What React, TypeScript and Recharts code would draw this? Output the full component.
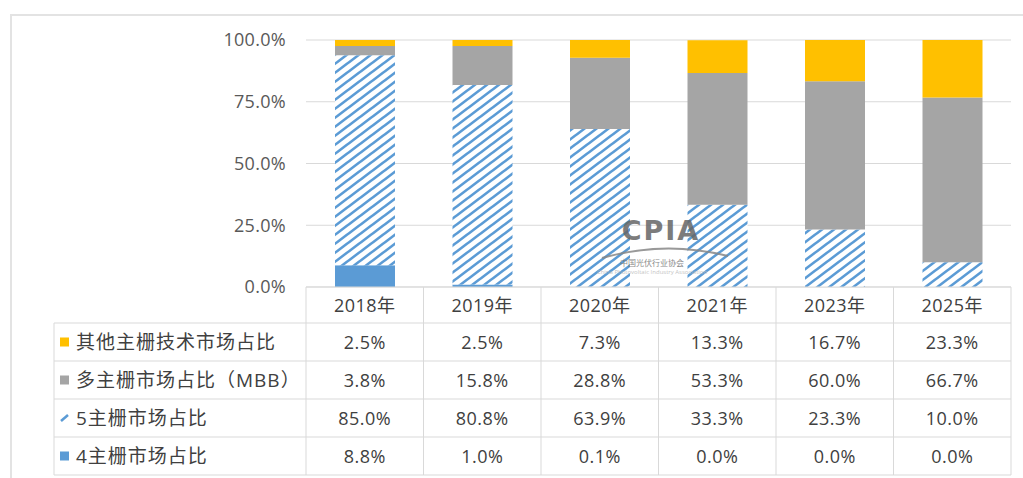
import { Bar, BarChart, CartesianGrid, XAxis, YAxis } from "recharts";

const years = ["2018年", "2019年", "2020年", "2021年", "2023年", "2025年"];
const otherShare = [2.5, 2.5, 7.3, 13.3, 16.7, 23.3];
const mbbShare = [3.8, 15.8, 28.8, 53.3, 60.0, 66.7];
const bb5Share = [85.0, 80.8, 63.9, 33.3, 23.3, 10.0];
const bb4Share = [8.8, 1.0, 0.1, 0.0, 0.0, 0.0];
const yTicks = [0, 25, 50, 75, 100];

// table rows, top to bottom (same order as the reference table)
const rows = [
  { key: "other", name: "其他主栅技术市场占比", color: "#FFC000", values: otherShare },
  { key: "mbb", name: "多主栅市场占比（MBB）", color: "#A5A5A5", values: mbbShare },
  { key: "bb5", name: "5主栅市场占比", color: "url(#stripes)", values: bb5Share },
  { key: "bb4", name: "4主栅市场占比", color: "#5B9BD5", values: bb4Share },
];

const data = years.map((year, i) => ({
  year,
  bb4: bb4Share[i],
  bb5: bb5Share[i],
  mbb: mbbShare[i],
  other: otherShare[i],
}));

const FONT = "'Open Sans', 'Noto Sans CJK SC', sans-serif";
const TEXT = "#404040";
const LINE = "#d9d9d9";
const PLOT_LEFT = 306;
const PLOT_RIGHT = 1011;
const PLOT_BOTTOM = 287;
const COL_W = (PLOT_RIGHT - PLOT_LEFT) / years.length;
const HEAD_H = 36;
const ROW_H = 38;
const TABLE_LEFT = 54;

function TableColumn(props: any) {
  const { x, y, payload } = props;
  const idx = payload.index;
  const bottom = y + HEAD_H + ROW_H * rows.length;
  return (
    <g>
      {idx === 0 && <line x1={x - COL_W / 2} x2={x - COL_W / 2} y1={y} y2={bottom} stroke={LINE} />}
      <line x1={x + COL_W / 2} x2={x + COL_W / 2} y1={y} y2={bottom} stroke={LINE} />
      <text x={x} y={y + HEAD_H / 2} textAnchor="middle" dominantBaseline="central" fill={TEXT} fontSize={18} letterSpacing={0.5} fontFamily={FONT}>
        {payload.value}
      </text>
      {rows.map((r, i) => (
        <text
          key={r.key}
          x={x}
          y={y + HEAD_H + ROW_H * i + ROW_H / 2}
          textAnchor="middle"
          dominantBaseline="central"
          fill={TEXT}
          fontSize={18}
          letterSpacing={0.5}
          fontFamily={FONT}
        >
          {r.values[idx].toFixed(1)}%
        </text>
      ))}
    </g>
  );
}

export default function App() {
  const tableTop = PLOT_BOTTOM + HEAD_H;
  return (
    <div style={{ position: "absolute", left: 0, top: 0, width: 1023, height: 478, background: "#fff", overflow: "hidden" }}>
      <svg width={0} height={0} style={{ position: "absolute" }}>
        <defs>
          <pattern id="stripes" patternUnits="userSpaceOnUse" width={12} height={9}>
            <rect width={12} height={9} fill="#fff" />
            <path d="M-3,2.25 L3,-2.25 M0,9 L12,0 M9,11.25 L15,6.75" stroke="#5B9BD5" strokeWidth={2.6} />
          </pattern>
        </defs>
      </svg>
      <div style={{ position: "absolute", left: 10, top: 14, width: 1100, height: 600, borderLeft: `2px solid #e3e3e3`, borderTop: `2px solid #e3e3e3` }} />
      <div style={{ position: "absolute", left: 0, top: 0 }}>
        <BarChart width={1023} height={478} data={data} margin={{ top: 40, right: 12, bottom: 3, left: 226 }} barSize={60}>
          <CartesianGrid vertical={false} stroke={LINE} />
          <XAxis
            dataKey="year"
            height={188}
            interval={0}
            tickLine={false}
            tickSize={0}
            tickMargin={0}
            axisLine={{ stroke: LINE }}
            tick={<TableColumn />}
          />
          <YAxis
            width={80}
            domain={[0, 100]}
            ticks={yTicks}
            allowDataOverflow
            axisLine={false}
            tickLine={false}
            tickSize={0}
            tickMargin={20}
            tickFormatter={(v: number) => `${v.toFixed(1)}%`}
            tick={{ fill: "#595959", fontSize: 18, fontFamily: FONT, letterSpacing: 0.3 }}
          />
          <Bar dataKey="bb4" stackId="a" fill="#5B9BD5" isAnimationActive={false} />
          <Bar dataKey="bb5" stackId="a" fill="url(#stripes)" isAnimationActive={false} />
          <Bar dataKey="mbb" stackId="a" fill="#A5A5A5" isAnimationActive={false} />
          <Bar dataKey="other" stackId="a" fill="#FFC000" isAnimationActive={false} />
        </BarChart>
      </div>
      <svg width={1023} height={478} style={{ position: "absolute", left: 0, top: 0, pointerEvents: "none" }}>
        {rows.map((r, i) => (
          <line key={`h${i}`} x1={TABLE_LEFT} x2={PLOT_RIGHT} y1={tableTop + ROW_H * i} y2={tableTop + ROW_H * i} stroke={LINE} />
        ))}
        <line x1={TABLE_LEFT} x2={PLOT_RIGHT} y1={tableTop + ROW_H * rows.length} y2={tableTop + ROW_H * rows.length} stroke={LINE} />
        <line x1={TABLE_LEFT} x2={TABLE_LEFT} y1={tableTop} y2={tableTop + ROW_H * rows.length} stroke={LINE} />
        {rows.map((r, i) => {
          const cy = tableTop + ROW_H * i + ROW_H / 2;
          return (
            <g key={r.key}>
              {r.key === "bb5" ? (
                <line x1={61} y1={cy + 3} x2={68} y2={cy - 3} stroke="#5B9BD5" strokeWidth={2.5} />
              ) : (
                <rect x={60} y={cy - 4.5} width={9} height={9} fill={r.color} />
              )}
              <text x={76} y={cy} dominantBaseline="central" fill={TEXT} fontSize={19} letterSpacing={1} fontFamily={FONT}>
                {r.name}
              </text>
            </g>
          );
        })}
        <g opacity={0.85}>
          <text x={661} y={240} textAnchor="middle" fill="#666" fontSize={27} fontWeight={700} letterSpacing={2} fontFamily="'DejaVu Sans', sans-serif">
            CPIA
          </text>
          <path d="M602,258 Q665,240 728,256" stroke="#888" strokeWidth={2} fill="none" />
          <text x={652} y={266} textAnchor="middle" fill="#777" fontSize={8} fontFamily={FONT}>
            中国光伏行业协会
          </text>
          <text x={652} y={274} textAnchor="middle" fill="#bbb" fontSize={6} fontFamily={FONT}>
            China Photovoltaic Industry Association
          </text>
        </g>
      </svg>
    </div>
  );
}
